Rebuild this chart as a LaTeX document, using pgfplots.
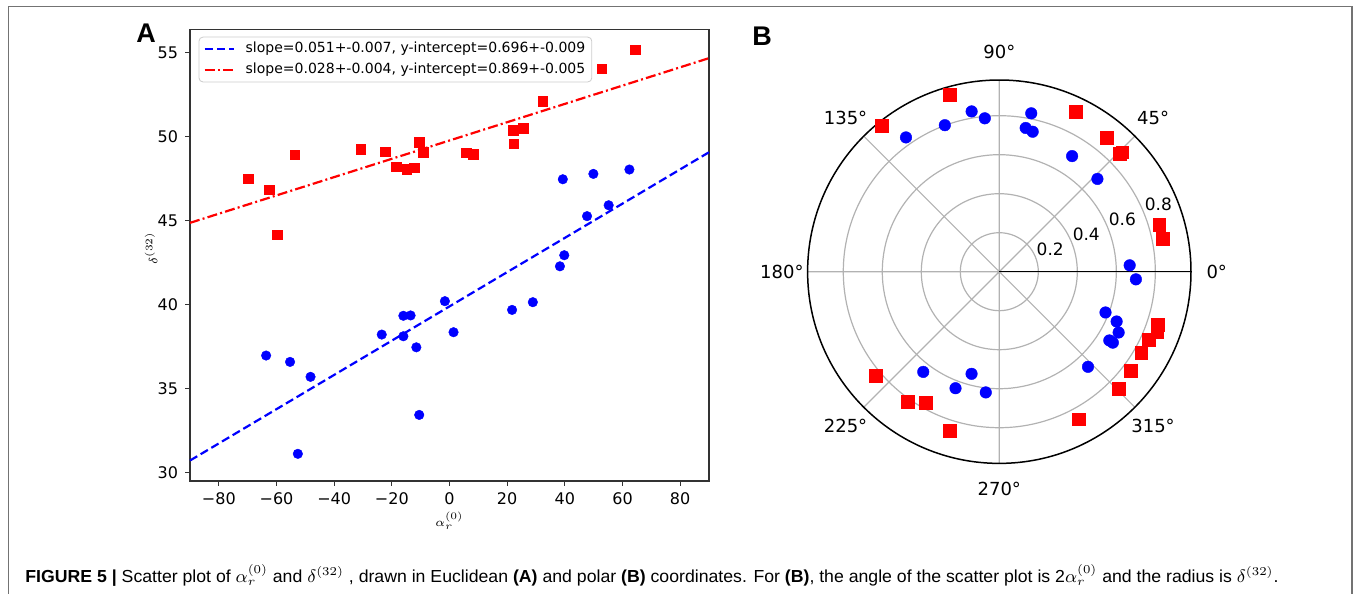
\documentclass[border=0pt]{standalone}
\usepackage{pgfplots}
\pgfplotsset{compat=1.18}
\usepgfplotslibrary{polar}
\usepackage{graphicx}
\usepackage{fontspec}
\setmainfont{DejaVu Sans}
\newfontfamily\capfont{Liberation Sans}

\pgfplotstableread{
x y
-69.9 47.50
-62.6 46.84
-59.7 44.16
-53.7 48.94
-30.8 49.26
-22.2 49.12
-18.5 48.21
-14.9 48.07
-12.3 48.17
-10.5 49.68
-9.2 49.08
5.7 49.05
8.2 48.96
22.1 50.38
22.2 49.58
25.6 50.50
32.3 52.12
52.8 54.07
64.4 55.19
}\redA

\pgfplotstableread{
x y
39.3 47.47
49.9 47.79
62.4 48.05
55.2 45.92
47.7 45.27
39.8 42.94
38.3 42.28
28.9 40.14
21.7 39.68
-1.6 40.20
1.4 38.35
-16.0 39.33
-13.5 39.35
-23.5 38.21
-16.0 38.11
-11.5 37.45
-10.5 33.42
-63.6 36.96
-55.3 36.58
-48.2 35.69
-52.6 31.10
}\blueA

\pgfplotstableread{
a r
-139.8 0.8290
-125.2 0.8175
-119.4 0.7707
-107.4 0.8542
-61.6 0.8597
-44.4 0.8573
-37.0 0.8414
-29.8 0.8390
-24.6 0.8407
-21.0 0.8671
-18.4 0.8566
11.4 0.8561
16.4 0.8545
44.2 0.8793
44.4 0.8653
51.2 0.8814
64.6 0.9097
105.6 0.9437
128.8 0.9632
}\redB

\pgfplotstableread{
a r
78.6 0.8285
99.8 0.8341
124.8 0.8386
110.4 0.8015
95.4 0.7901
79.6 0.7494
76.6 0.7379
57.8 0.7006
43.4 0.6925
-3.2 0.7016
2.8 0.6693
-32.0 0.6864
-27.0 0.6868
-47.0 0.6669
-32.0 0.6652
-23.0 0.6536
-21.0 0.5833
-127.2 0.6451
-110.6 0.6384
-96.4 0.6229
-105.2 0.5428
}\blueB

\begin{document}
\begin{tikzpicture}[x=1pt,y=1pt]
\path[use as bounding box] (0,0) rectangle (677,297);
\draw[black!55, line width=0.6pt] (4.15,0) -- (4.15,293.85) -- (676,293.85) -- (676,0);

\begin{axis}[
  at={(95pt,56.5pt)}, anchor=south west,
  scale only axis, width=259.5pt, height=225.85pt,
  xmin=-90, xmax=90, ymin=29.48, ymax=56.41,
  xtick={-80,-60,-40,-20,0,20,40,60,80},
  xticklabels={−80,−60,−40,−20,0,20,40,60,80},
  ytick={30,35,40,45,50,55},
  yticklabels={30,35,40,45,50,55},
  tick pos=left, tick align=outside, major tick length=2.5pt,
  tick style={black!80, line width=0.5pt},
  axis line style={black!80, line width=0.6pt},
  ticklabel style={font=\fontsize{8}{9}\selectfont},
  xlabel={$\alpha_r^{(0)}$}, ylabel={$\delta^{(32)}$},
  label style={font=\fontsize{6.5}{7}\selectfont},
  xlabel style={at={(axis description cs:0.5,-0.0886)}, anchor=center},
  ylabel style={at={(axis description cs:-0.0751,0.5155)}, anchor=center},
  clip=false,
  legend cell align=left,
  legend image code/.code={\draw[#1] (0pt,0pt) -- (14.5pt,0pt);},
  legend style={at={(axis description cs:0.01657,0.98362)}, anchor=north west,
    draw=black!20, rounded corners=2pt, fill=white, fill opacity=0.8, text opacity=1,
    inner xsep=2.25pt, inner ysep=1.5pt,
    font=\fontsize{7}{8.5}\selectfont, row sep=1.8pt,
    nodes={inner sep=1pt},
    /tikz/every odd column/.append style={column sep=4.5pt}},
]
\addplot[blue, line width=1.1pt, dash pattern=on 4.2pt off 2pt] coordinates {(-90,30.70) (90,49.08)};
\addlegendentry{slope=0.051+-0.007, y-intercept=0.696+-0.009}
\addplot[red, line width=1.1pt, dash pattern=on 5pt off 1.6pt on 1pt off 1.6pt] coordinates {(-90,44.87) (90,54.69)};
\addlegendentry{slope=0.028+-0.004, y-intercept=0.869+-0.005}
\addplot[only marks, color=blue, mark=*, mark size=2.4pt, mark options={solid, draw=blue, fill=blue, line width=0.2pt}, forget plot] table[x=x,y=y] {\blueA};
\addplot[only marks, color=red, mark=square*, mark size=2.4pt, mark options={solid, draw=red, fill=red, line width=0.2pt}, forget plot] table[x=x,y=y] {\redA};
\end{axis}

\begin{polaraxis}[
  at={(499.65pt,161.15pt)}, anchor=center,
  scale only axis, width=191.7pt, height=191.7pt,
  ymin=0, ymax=0.983,
  xtick={0,45,90,135,180,225,270,315}, ytick={0.2,0.4,0.6,0.8},
  xticklabels={}, yticklabels={},
  grid=major, major grid style={black!30, line width=0.6pt},
  axis line style={black, line width=0.75pt},
  major tick length=0pt,
  clip=false,
]
\addplot[only marks, color=blue, mark=*, mark size=2.9pt, mark options={solid, draw=blue, fill=blue, line width=0.2pt}] table[x=a,y=r] {\blueB};
\addplot[only marks, color=red, mark=square*, mark size=3.2pt, mark options={solid, draw=red, fill=red, line width=0.2pt}] table[x=a,y=r] {\redB};
\begin{scope}[every node/.style={font=\fontsize{9}{10}\selectfont}]
\node at (axis cs:0,1.115) {0°};
\node at (axis cs:45,1.115) {45°};
\node at (axis cs:90,1.125) {90°};
\node at (axis cs:135,1.115) {135°};
\node at (axis cs:180,1.115) {180°};
\node at (axis cs:225,1.115) {225°};
\node at (axis cs:270,1.115) {270°};
\node at (axis cs:315,1.115) {315°};
\end{scope}
\begin{scope}[every node/.style={font=\fontsize{8.5}{9}\selectfont, anchor=south west, inner sep=0.5pt}]
\node at (axis cs:22.5,0.2) {0.2};
\node at (axis cs:22.5,0.4) {0.4};
\node at (axis cs:22.5,0.6) {0.6};
\node at (axis cs:22.5,0.8) {0.8};
\end{scope}
\end{polaraxis}

\node[font=\capfont\bfseries\fontsize{13.5}{14}\selectfont, inner sep=0] at (73pt,280.5pt) {A};
\node[font=\capfont\bfseries\fontsize{13.5}{14}\selectfont, inner sep=0] at (381pt,278.65pt) {B};

\node[anchor=base west, inner sep=0] at (12.5pt,5.5pt) {\resizebox{626.5pt}{\height}{\capfont\fontsize{8.7}{10}\selectfont \textbf{FIGURE 5 |} Scatter plot of $\alpha_r^{(0)}$ and $\delta^{(32)}$ , drawn in Euclidean \textbf{(A)} and polar \textbf{(B)} coordinates. For \textbf{(B)}, the angle of the scatter plot is 2$\alpha_r^{(0)}$ and the radius is $\delta^{(32)}$.}};
\end{tikzpicture}
\end{document}
